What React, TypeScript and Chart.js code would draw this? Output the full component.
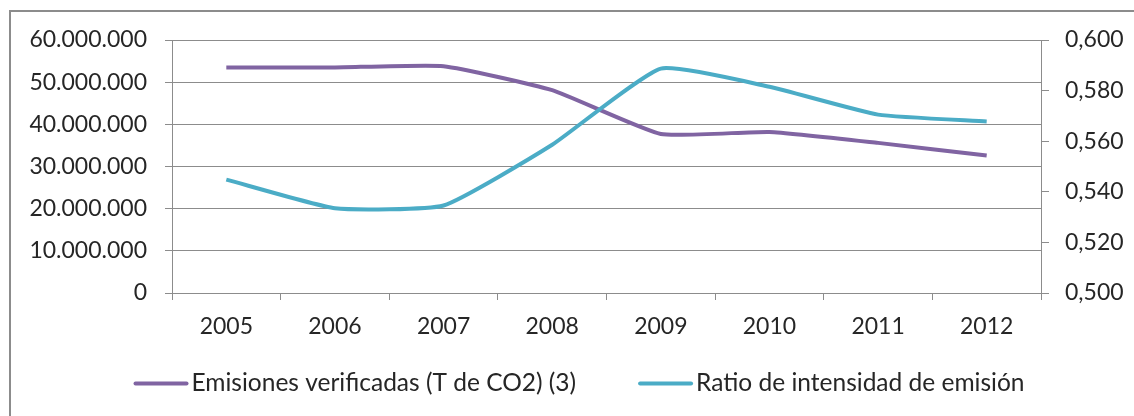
import React, { useEffect, useRef } from "react";
import { Chart, registerables } from "chart.js";

Chart.register(...registerables);

const categories = ["2005", "2006", "2007", "2008", "2009", "2010", "2011", "2012"];
const emissions = [53500000, 53500000, 53800000, 48100000, 37700000, 38200000, 35600000, 32600000];
const ratio = [0.5448, 0.5335, 0.5346, 0.5586, 0.5887, 0.5815, 0.5705, 0.5678];
const seriesNames = ["Emisiones verificadas (T de CO2) (3)", "Ratio de intensidad de emisión"];

const PURPLE = "#8064A2";
const BLUE = "#4BACC6";
const GRID = "#8c8c8c";
const TEXT = "#262626";
const FONT = "Lato";
const TICK_SIZE = 23;
const LEGEND_SIZE = 24.5;

const fmtThousands = (v: number) =>
  Math.round(v).toString().replace(/\B(?=(\d{3})+(?!\d))/g, ".");

const borderPlugin = {
  id: "outerBorder",
  beforeDraw(chart: any) {
    const ctx = chart.ctx;
    ctx.save();
    ctx.fillStyle = "#ffffff";
    ctx.fillRect(0, 0, chart.width, chart.height);
    ctx.strokeStyle = "#8c8c8c";
    ctx.lineWidth = 2;
    ctx.strokeRect(10, 11, 2000, 2000);
    ctx.restore();
  },
};

// Custom legend: line sample + label, centred under the chart
const legendPlugin = {
  id: "customLegend",
  afterDraw(chart: any) {
    const ctx = chart.ctx;
    const sample = 55;
    const textGap = 3;
    const itemGap = 62;
    const centerX = 579;
    const lineY = 383.5;
    const baseY = 390.5;
    ctx.save();
    ctx.font = `${LEGEND_SIZE}px ${FONT}`;
    const items = chart.data.datasets.map((ds: any) => ({
      label: ds.label,
      color: ds.borderColor,
      w: ctx.measureText(ds.label).width,
    }));
    const total =
      items.reduce((s: number, it: any) => s + sample + textGap + it.w, 0) + itemGap * (items.length - 1);
    let x = centerX - total / 2;
    items.forEach((it: any) => {
      ctx.strokeStyle = it.color;
      ctx.lineWidth = 4;
      ctx.lineCap = "round";
      ctx.beginPath();
      ctx.moveTo(x + 2, lineY);
      ctx.lineTo(x + sample - 2, lineY);
      ctx.stroke();
      ctx.fillStyle = TEXT;
      ctx.textBaseline = "alphabetic";
      ctx.textAlign = "left";
      ctx.fillText(it.label, x + sample + textGap, baseY);
      x += sample + textGap + it.w + itemGap;
    });
    ctx.restore();
  },
};

export default function App() {
  const ref = useRef<HTMLCanvasElement | null>(null);
  useEffect(() => {
    if (!ref.current) return;
    const font = { family: FONT, size: TICK_SIZE };
    const chart = new Chart(ref.current, {
      type: "line",
      data: {
        labels: categories,
        datasets: [
          {
            label: seriesNames[0],
            data: emissions,
            borderColor: PURPLE,
            backgroundColor: PURPLE,
            borderWidth: 4,
            pointRadius: 0,
            tension: 0.15,
            yAxisID: "y",
            order: 1,
          },
          {
            label: seriesNames[1],
            data: ratio,
            borderColor: BLUE,
            backgroundColor: BLUE,
            borderWidth: 4,
            pointRadius: 0,
            tension: 0.15,
            yAxisID: "y1",
            order: 0,
          },
        ],
      },
      options: {
        responsive: false,
        animation: false,
        layout: { padding: { left: 23, right: 0, top: 40, bottom: 0 } },
        plugins: {
          tooltip: { enabled: false },
          legend: { display: false },
        },
        scales: {
          x: {
            type: "category",
            offset: true,
            grid: { offset: true, drawOnChartArea: false, drawTicks: true, tickLength: 7, color: GRID },
            border: { display: true, color: GRID },
            ticks: { font, color: TEXT, padding: 13, maxRotation: 0 },
            afterFit: (s: any) => {
              s.height = 123;
            },
          },
          y: {
            position: "left",
            min: 0,
            max: 60000000,
            ticks: {
              stepSize: 10000000,
              font,
              color: TEXT,
              padding: 18,
              callback: (v: any) => fmtThousands(Number(v)),
            },
            grid: { color: GRID, tickLength: 7 },
            border: { display: true, color: GRID },
            afterFit: (s: any) => {
              s.width = 149;
            },
          },
          y1: {
            position: "right",
            min: 0.5,
            max: 0.6,
            ticks: {
              stepSize: 0.02,
              font,
              color: TEXT,
              padding: 16,
              callback: (v: any) => Number(v).toFixed(3).replace(".", ","),
            },
            grid: { drawOnChartArea: false, color: GRID, tickLength: 8 },
            border: { display: true, color: GRID },
            afterFit: (s: any) => {
              s.width = 93;
            },
          },
        },
      },
      plugins: [borderPlugin, legendPlugin],
    });
    return () => chart.destroy();
  }, []);
  return (
    <div style={{ position: "fixed", left: 0, top: 0, width: 1134, height: 416, background: "#fff" }}>
      <canvas ref={ref} width={1134} height={416} style={{ display: "block" }} />
    </div>
  );
}
